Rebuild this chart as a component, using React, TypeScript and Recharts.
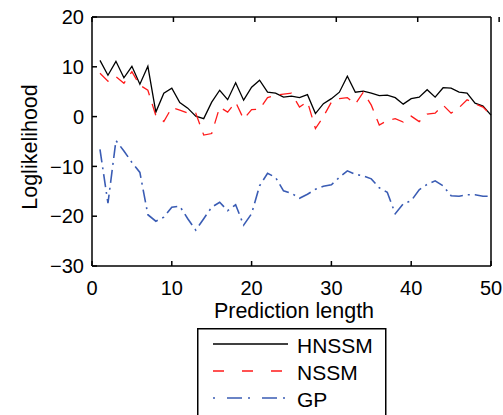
import React from 'react';
import { LineChart, Line, XAxis, YAxis, Legend, Label } from 'recharts';

const steps = Array.from({ length: 50 }, (_, i) => i + 1);

const hnssm = [
  11.3, 8.3, 11.1, 7.8, 10.1, 6.5, 10.1, 0.9, 4.7, 5.7,
  2.8, 1.7, 0.1, -0.4, 2.9, 5.3, 3.4, 6.8, 3.3, 5.9,
  7.3, 4.9, 4.7, 3.9, 4.1, 3.8, 4.4, 0.6, 2.6, 3.6,
  4.9, 8.1, 4.9, 5.1, 4.7, 4.2, 4.3, 3.8, 2.5, 3.6,
  3.9, 5.4, 3.9, 5.8, 5.7, 4.9, 4.7, 2.7, 2.1, 0.3,
];

const nssm = [
  8.7, 7.1, 8.0, 6.7, 9.0, 6.3, 5.3, 0.2, -1.0, 1.8,
  1.3, 0.7, 0.7, -3.7, -3.4, 1.9, 0.9, 2.9, -0.5, 1.4,
  1.5, 3.8, 4.3, 4.5, 4.7, 1.9, 3.0, -2.4, 0.0, 2.9,
  3.6, 3.8, 2.5, 4.9, 2.3, -1.7, -0.8, -0.4, -1.1, 0.1,
  -1.0, 0.5, 0.7, 2.3, 0.7, 1.8, 3.4, 2.6, 1.9, 0.3,
];

const gp = [
  -6.6, -17.4, -4.8, -6.9, -9.2, -11.2, -19.7, -21.0, -20.2, -18.2,
  -18.0, -20.5, -22.8, -20.5, -18.2, -17.2, -18.9, -17.7, -21.8, -19.5,
  -13.9, -11.4, -12.2, -14.9, -15.4, -16.4, -15.6, -14.6, -14.0, -13.7,
  -12.2, -10.9, -11.6, -11.9, -12.5, -14.3, -15.2, -19.5, -17.5, -16.9,
  -14.7, -13.6, -12.9, -13.9, -15.9, -16.0, -15.7, -15.7, -16.0, -16.0,
];

const xTicks = [0, 10, 20, 30, 40, 50];
const yTicks = [-30, -20, -10, 0, 10, 20];

const data = steps.map((x, i) => ({ x, hnssm: hnssm[i], nssm: nssm[i], gp: gp[i] }));

const FONT = '"Liberation Sans", Arial, sans-serif';
const RED = '#ff1a1a';
const BLUE = '#3a5cb4';
const NSSM_DASH = '12 9';
const GP_DASH = '13 5 2 5';

const YTitle = () => (
  <text x={31} y={147} transform="rotate(-90 31 147)" textAnchor="middle" dominantBaseline="middle"
    fontFamily={FONT} fontSize={21.5} fill="#000">Loglikelihood</text>
);

const XTitle = () => (
  <text x={294} y={318} textAnchor="middle" fontFamily={FONT} fontSize={21.5} fill="#000">Prediction length</text>
);

const legendRows = [
  { name: 'HNSSM', color: '#000', dash: undefined as string | undefined, width: 1.3 },
  { name: 'NSSM', color: RED, dash: '11 18', width: 1.3 },
  { name: 'GP', color: BLUE, dash: '2 12 15 6', width: 1.6 },
];

const renderLegend = () => (
  <svg width={190} height={95} style={{ display: 'block' }}>
    <rect x={0.75} y={0.75} width={188} height={100} fill="#fff" stroke="#000" strokeWidth={1.5} />
    {legendRows.map((r, i) => (
      <g key={r.name}>
        <line x1={16} x2={91} y1={16 + i * 27} y2={16 + i * 27} stroke={r.color}
          strokeWidth={r.width} strokeDasharray={r.dash} />
        <text x={100} y={25 + i * 27} fontFamily={FONT} fontSize={21} fill="#000">{r.name}</text>
      </g>
    ))}
  </svg>
);

export default function App() {
  const tick = { fill: '#000', fontSize: 20, fontFamily: FONT };
  const axisLine = { stroke: '#000', strokeWidth: 1.5 };
  return (
    <div style={{ position: 'absolute', left: 0, top: 0, width: 503, height: 415, background: '#fff', overflow: 'hidden' }}>
      <LineChart width={503} height={415} data={data} margin={{ top: 16, right: 11, left: 0, bottom: 109 }}>
        <XAxis dataKey="x" type="number" domain={[0, 50]} ticks={xTicks} interval={0}
          tickSize={-5} tickMargin={20} height={40} axisLine={axisLine} tickLine={axisLine} tick={tick}
          label={<XTitle />} />
        <XAxis xAxisId="top" orientation="top" type="number" domain={[0, 50]} ticks={xTicks} interval={0}
          tickSize={-5} height={1} axisLine={axisLine} tickLine={axisLine} tickFormatter={() => ''} />
        <YAxis type="number" domain={[-30, 20]} ticks={yTicks} interval={0} width={92}
          tickSize={-5} tickMargin={13} axisLine={axisLine} tickLine={axisLine} tick={tick}
          tickFormatter={(v: number) => (v < 0 ? `\u2212${Math.abs(v)}` : `${v}`)}
          label={<YTitle />} />
        <YAxis yAxisId="right" orientation="right" type="number" domain={[-30, 20]} ticks={yTicks} interval={0}
          width={1} tickSize={-5} axisLine={axisLine} tickLine={axisLine} tickFormatter={() => ''} />
        <Line dataKey="hnssm" name="HNSSM" stroke="#000" strokeWidth={1.3} dot={false} isAnimationActive={false} />
        <Line dataKey="nssm" name="NSSM" stroke={RED} strokeWidth={1.3} strokeDasharray={NSSM_DASH} dot={false} isAnimationActive={false} />
        <Line dataKey="gp" name="GP" stroke={BLUE} strokeWidth={1.6} strokeDasharray={GP_DASH} dot={false} isAnimationActive={false} />
        <Legend layout="vertical" align="center" verticalAlign="middle" content={renderLegend}
          wrapperStyle={{ position: 'absolute', left: 197, top: 328, width: 190, height: 95 }} />
      </LineChart>
    </div>
  );
}
